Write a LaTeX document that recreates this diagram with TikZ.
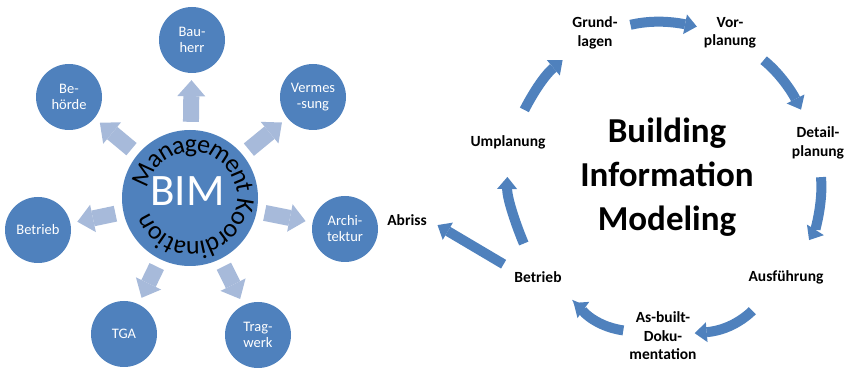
\documentclass[tikz,border=0pt]{standalone}
\usepackage{fontspec}
\setmainfont{Carlito}
\usepackage{tikz}
\usetikzlibrary{arrows.meta,decorations.text}

\definecolor{bimblue}{RGB}{79,129,189}
\definecolor{spokeblue}{RGB}{167,186,218}
\newcommand{\curvefont}{\fontsize{26}{28}\selectfont}

\begin{document}
\begin{tikzpicture}[
    x=1pt, y=1pt,
    hub/.style={circle, fill=bimblue, minimum size=136pt, inner sep=0pt},
    party/.style={circle, fill=bimblue, minimum size=66pt, inner sep=0pt, align=center, text=white, font=\fontsize{14.5}{16}\selectfont},
    spoke/.style={draw=spokeblue, line width=16pt, -{Triangle[width=28pt,length=16pt,line width=0pt]}, shorten <=8pt, shorten >=7pt},
    phase/.style={align=center, inner sep=2pt, font=\bfseries\fontsize{15.5}{18.5}\selectfont},
    phasearrow/.style={draw=bimblue, line width=10pt, -{Triangle[width=20pt,length=12pt,line width=0pt]}}
]
\useasboundingbox (0,0) rectangle (847,369);

% BIM hub with its partners
\node[hub] (bim) at (190,171) {};
\node[text=white, font=\fontsize{45}{45}\selectfont] (bimlabel) at ([xshift=-2.5pt,yshift=6.5pt]bim.center) {BIM};
\path[decorate, decoration={text along path, raise=-5pt, text={|\curvefont|Management Koordination}}]
    ([shift={(168:50)}]bim.center) ++(2,1) arc[start angle=168, end angle=-192, radius=50];

\node[party] (bauherr) at (192,329) {Bau-\\herr};
\node[party] (behoerde) at (69,272) {Be-\\hörde};
\node[party] (vermessung) at (313,272) {Vermes\\-sung};
\node[party] (betrieb) at (38,139) {Betrieb};
\node[party] (architektur) at (345,140) {Archi-\\tektur};
\node[party] (tga) at (124,35) {TGA};
\node[party] (tragwerk) at (258,34) {Trag-\\werk};

\draw[spoke] (bim) -- (bauherr);
\draw[spoke] (bim) -- (behoerde);
\draw[spoke] (bim) -- (vermessung);
\draw[spoke] (bim) -- (betrieb);
\draw[spoke] (bim) -- (architektur);
\draw[spoke] (bim) -- (tga);
\draw[spoke] (bim) -- (tragwerk);

% life cycle
\node[font=\bfseries\fontsize{35}{44}\selectfont, align=center] (bimtitle) at (667,192) {Building\\Information\\Modeling};
\node[phase] (grund) at (595,336) {Grund-\\lagen};
\node[phase] (vor) at (730,336) {Vor-\\planung};
\node[phase] (detail) at (818,226) {Detail-\\planung};
\node[phase] (ausf) at (786,92) {Ausführung};
\node[phase] (asbuilt) at (663,33) {As-built-\\Doku-\\mentation};
\node[phase] (betrieb2) at (538,92) {Betrieb};
\node[phase] (umplanung) at (508,227) {Umplanung};
\node[phase] (abriss) at (407,149) {Abriss};

\draw[phasearrow, shorten <=11pt, shorten >=5pt] (grund) to[out=13, in=169] (vor);
\draw[phasearrow, shorten <=15pt, shorten >=17pt] (vor) to[out=-39, in=117] (detail);
\draw[phasearrow, shorten <=16pt, shorten >=33pt] (detail) to[out=-85, in=58] (ausf);
\draw[phasearrow, shorten <=35pt, shorten >=-4pt] (ausf) to[out=-135, in=5] (asbuilt);
\draw[phasearrow, shorten <=4pt, shorten >=31pt] (asbuilt) to[out=172, in=-36] (betrieb2);
\draw[phasearrow, shorten <=28pt, shorten >=26pt] (betrieb2) to[out=113, in=-91] (umplanung);
\draw[phasearrow, shorten <=26pt, shorten >=14pt] (umplanung) to[out=63, in=220] (grund);
\draw[phasearrow, shorten <=10pt, shorten >=10pt] (betrieb2.north west) -- (abriss.east);
\end{tikzpicture}
\end{document}
